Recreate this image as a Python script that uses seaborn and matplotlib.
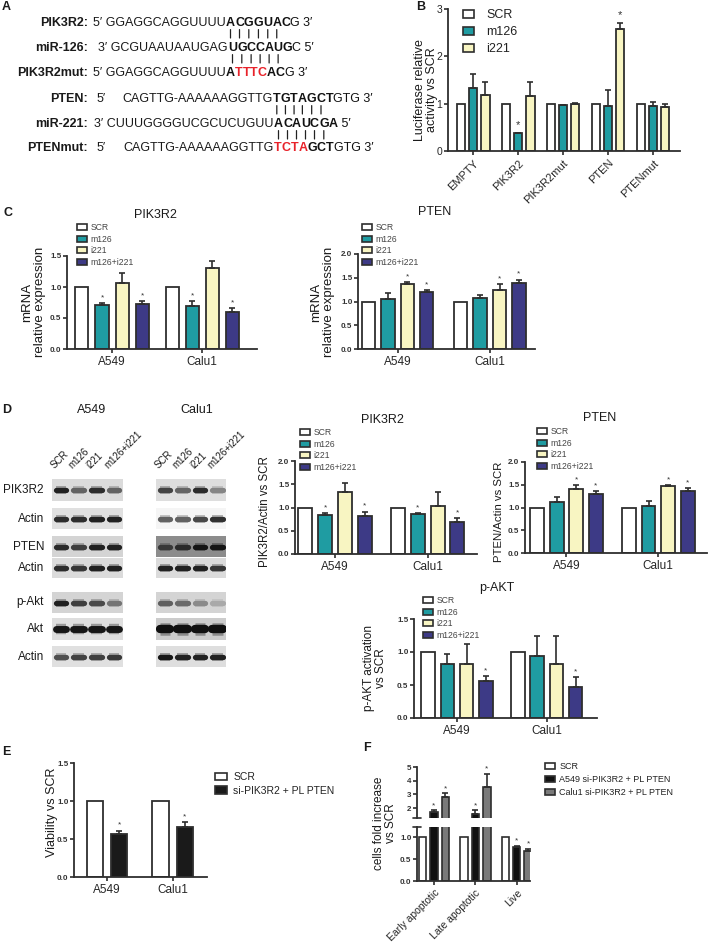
import matplotlib
matplotlib.use("Agg")
import matplotlib.pyplot as plt
import matplotlib.transforms as mtransforms
from matplotlib.container import BarContainer
from matplotlib.patches import Patch
import numpy as np
import pandas as pd
import seaborn as sns

# ---------------- data ----------------
HUES4 = ["SCR", "m126", "i221", "m126+i221"]
COLORS4 = ["#ffffff", "#1f9ca2", "#f8f5c2", "#3d3a86"]
CELLS = ["A549", "Calu1"]

b_groups = ["EMPTY", "PIK3R2", "PIK3R2mut", "PTEN", "PTENmut"]
b_mean = [[1.0, 1.33, 1.19], [1.0, 0.37, 1.17], [1.0, 0.97, 0.99], [1.0, 0.95, 2.58], [1.0, 0.95, 0.92]]
b_err = [[0, 0.30, 0.26], [0, 0.02, 0.28], [0, 0.01, 0.03], [0, 0.33, 0.13], [0, 0.09, 0.07]]
b_star = [[0, 0, 0], [0, 1, 0], [0, 0, 0], [0, 0, 1], [0, 0, 0]]

c_pik_mean = [[1.0, 0.71, 1.06, 0.72], [1.0, 0.70, 1.31, 0.60]]
c_pik_err = [[0, 0.035, 0.17, 0.05], [0, 0.07, 0.11, 0.06]]
c_pik_star = [[0, 1, 0, 1], [0, 1, 0, 1]]
c_pten_mean = [[1.0, 1.06, 1.36, 1.20], [1.0, 1.08, 1.25, 1.39]]
c_pten_err = [[0, 0.12, 0.05, 0.04], [0, 0.05, 0.11, 0.07]]
c_pten_star = [[0, 0, 1, 1], [0, 0, 1, 1]]

d_pik_mean = [[1.0, 0.84, 1.34, 0.81], [1.0, 0.86, 1.04, 0.69]]
d_pik_err = [[0, 0.04, 0.18, 0.10], [0, 0.02, 0.30, 0.08]]
d_pik_star = [[0, 1, 0, 1], [0, 1, 0, 1]]
d_pten_mean = [[1.0, 1.11, 1.40, 1.30], [1.0, 1.04, 1.47, 1.37]]
d_pten_err = [[0, 0.11, 0.10, 0.06], [0, 0.10, 0.03, 0.06]]
d_pten_star = [[0, 0, 1, 1], [0, 0, 1, 1]]
d_akt_mean = [[1.0, 0.815, 0.815, 0.565], [1.0, 0.935, 0.815, 0.475]]
d_akt_err = [[0, 0.16, 0.30, 0.07], [0, 0.30, 0.42, 0.14]]
d_akt_star = [[0, 0, 0, 1], [0, 0, 0, 1]]

blot_rows = ["PIK3R2", "Actin", "PTEN", "Actin", "p-Akt", "Akt", "Actin"]
a549_bands = [[0.85, 0.55, 0.8, 0.55], [0.8, 0.8, 0.85, 0.85], [0.8, 0.7, 0.85, 0.85], [0.8, 0.75, 0.85, 0.85],
              [0.85, 0.7, 0.65, 0.45], [0.9, 0.9, 0.9, 0.9], [0.65, 0.7, 0.72, 0.75]]
calu1_bands = [[0.7, 0.55, 0.8, 0.4], [0.6, 0.6, 0.7, 0.8], [0.6, 0.7, 0.85, 0.85], [0.85, 0.85, 0.85, 0.75],
               [0.55, 0.5, 0.35, 0.2], [0.92, 0.92, 0.92, 0.92], [0.9, 0.85, 0.85, 0.85]]
a549_bg = [0.86, 0.88, 0.83, 0.86, 0.83, 0.87, 0.88]
calu1_bg = [0.87, 0.96, 0.55, 0.86, 0.83, 0.8, 0.87]

e_hues = ["SCR", "si-PIK3R2 + PL PTEN"]
e_mean = [[1.0, 0.57], [1.0, 0.66]]
e_err = [[0, 0.04], [0, 0.06]]
e_star = [[0, 1], [0, 1]]

f_groups = ["Early apoptotic", "Late apoptotic", "Live"]
f_hues = ["SCR", "A549 si-PIK3R2 + PL PTEN", "Calu1 si-PIK3R2 + PL PTEN"]
f_colors = ["#ffffff", "#111111", "#7a7a7a"]
f_mean = [[1.0, 1.71, 2.82], [1.0, 1.59, 3.56], [1.0, 0.77, 0.69]]
f_err = [[0, 0.16, 0.27], [0, 0.24, 0.96], [0, 0.03, 0.05]]
f_star = [[0, 1, 1], [0, 1, 1], [0, 1, 1]]

# ---------------- layout helpers ----------------
W, H = 709, 942
EDGE = "#2e2e2e"
sns.set_theme(style="ticks")
plt.rcParams["font.family"] = ["Liberation Sans", "DejaVu Sans"]
plt.rcParams["text.color"] = "#1a1a1a"

fig = plt.figure(figsize=(W / 100, H / 100), dpi=100)
ov = fig.add_axes([0, 0, 1, 1])
ov.set_xlim(0, W)
ov.set_ylim(H, 0)
ov.axis("off")


def px_axes(x0, y0, x1, y1):
    return fig.add_axes([x0 / W, 1 - y1 / H, (x1 - x0) / W, (y1 - y0) / H])


def bar_panel(ax, groups, hues, colors, means, errs, stars, width, gap, ylim, yticks, xlim,
              tick_fs=5.8, bold=True, star_fs=6, lw=1.3):
    df = pd.DataFrame({"group": np.repeat(groups, len(hues)),
                       "hue": list(hues) * len(groups),
                       "value": np.ravel(means)})
    sns.barplot(data=df, x="group", y="value", hue="hue", order=groups, hue_order=hues,
                palette=colors, saturation=1, width=width, gap=gap, errorbar=None,
                edgecolor=EDGE, linewidth=lw, legend=False, ax=ax)
    span = ylim[1] - ylim[0]
    bar_sets = [c for c in ax.containers if isinstance(c, BarContainer)]
    for k, cont in enumerate(bar_sets):
        for g, bar in enumerate(cont.patches):
            x = bar.get_x() + bar.get_width() / 2
            top = bar.get_height()
            err = errs[g][k]
            if err > 0:
                ax.errorbar(x, top, yerr=[[0], [err]], fmt="none", ecolor=EDGE,
                            elinewidth=1.2, capsize=2.2, capthick=1.2)
            if stars[g][k] and ylim[0] <= top + err <= ylim[1]:
                ax.text(x, top + err + span * 0.02, "*", ha="center", va="bottom",
                        fontsize=star_fs, color="#333333")
    ax.set_ylim(*ylim)
    ax.set_yticks(yticks)
    ax.set_xlim(*xlim)
    ax.set_xlabel("")
    ax.set_ylabel("")
    sns.despine(ax=ax)
    for s in ["left", "bottom"]:
        ax.spines[s].set_linewidth(1.3)
        ax.spines[s].set_color(EDGE)
    ax.tick_params(axis="y", direction="out", length=3, width=1.2, color=EDGE, labelsize=tick_fs, pad=1)
    ax.tick_params(axis="x", direction="out", length=3, width=1.2, color=EDGE, pad=2)
    ax.set_facecolor("none")
    if bold:
        for t in ax.get_yticklabels():
            t.set_fontweight("bold")
            t.set_color("#333333")
    return ax


def legend_at(ax, labels, colors, x, y, fs, spacing=0.3, hl=1.2, hh=0.7, pad=0.4, tcolor="#444444"):
    handles = [Patch(facecolor=c, edgecolor=EDGE, linewidth=1.2) for c in colors]
    leg = ax.legend(handles, labels, loc="upper left", bbox_to_anchor=(x / W, 1 - y / H),
                    bbox_transform=fig.transFigure, frameon=False, fontsize=fs, handlelength=hl,
                    handleheight=hh, labelspacing=spacing, handletextpad=pad, borderpad=0,
                    borderaxespad=0)
    for t in leg.get_texts():
        t.set_color(tcolor)
    return leg


def panel_letter(x, y, s):
    ov.text(x, y, s, ha="left", va="center", fontsize=9, weight="bold")


# ---------------- panel A ----------------
SEQ_FS = 9.0


def seq_line(y, label, prefix, anchor, pieces, lead=None):
    ov.text(88, y, label, ha="right", va="center", fontsize=SEQ_FS, weight="bold")
    prev = ov.text(anchor, y, prefix, ha="right", va="center", fontsize=SEQ_FS)
    if lead:
        ov.text(97, y, lead, ha="left", va="center", fontsize=SEQ_FS)
    chars = []
    for s, bold, color in pieces:
        parts = list(s) if bold else [s]
        for p in parts:
            prev = ov.annotate(p, xy=(1, 0), xycoords=prev, ha="left", va="bottom",
                               fontsize=SEQ_FS, weight="bold" if bold else "normal", color=color)
            if bold:
                chars.append(prev)
    return chars


def pair_bars(chars, n=6):
    for ch in chars[:n]:
        ov.annotate("", xy=(0.5, -0.05), xycoords=ch, xytext=(0.5, -0.75), textcoords=ch,
                    arrowprops=dict(arrowstyle="-", lw=0.9, color="#222222", shrinkA=0, shrinkB=0))


K, R = "#111111", "#e8222a"
panel_letter(2, 7, "A")
top1 = seq_line(23, "PIK3R2:", "5\u2032 GGAGGCAGGUUUU", 226, [("ACGGUAC", True, K), ("G 3\u2032", False, K)])
mid1 = seq_line(48, "miR-126:", "3\u2032 GCGUAAUAAUGAG", 228, [("UGCCAUG", True, K), ("C 5\u2032", False, K)])
seq_line(73, "PIK3R2mut:", "5\u2032 GGAGGCAGGUUUU", 226,
         [("A", True, K), ("TTTC", True, R), ("AC", True, K), ("G 3\u2032", False, K)])
pair_bars(top1)
pair_bars(mid1)
top2 = seq_line(99, "PTEN:", "CAGTTG-AAAAAAGGTTG", 273, [("TGTAGCT", True, K), ("GTG 3\u2032", False, K)],
                lead="5\u2032")
mid2 = seq_line(124, "miR-221:", "3\u2032 CUUUGGGGUCGCUCUGUU", 274, [("ACAUCGA", True, K), (" 5\u2032", False, K)])
seq_line(148, "PTENmut:", "CAGTTG-AAAAAAGGTTG", 274,
         [("TCTA", True, R), ("GCT", True, K), ("GTG 3\u2032", False, K)], lead="5\u2032")
pair_bars(top2)
pair_bars(mid2)

# ---------------- panel B ----------------
panel_letter(416, 7, "B")
axB = px_axes(448, 9, 680, 151)
bar_panel(axB, b_groups, HUES4[:3], COLORS4[:3], b_mean, b_err, b_star, width=0.81, gap=0.3,
          ylim=(0, 3), yticks=[0, 1, 2, 3], xlim=(-0.56, 4.6), tick_fs=7.5, bold=False, star_fs=8)
axB.set_xticks(range(len(b_groups)))
axB.set_xticklabels(b_groups, rotation=45, ha="right", rotation_mode="anchor", fontsize=8)
legend_at(axB, HUES4[:3], COLORS4[:3], 463, 9, 9, spacing=0.4, hl=0.85, hh=0.6, pad=1.0, tcolor="#222222")
ov.text(426, 90, "Luciferase relative\nactivity vs SCR", rotation=90, ha="center", va="center",
        fontsize=9, linespacing=1.1)

# ---------------- panel C ----------------
panel_letter(4, 213, "C")
axC1 = px_axes(67, 256, 257, 349)
bar_panel(axC1, CELLS, HUES4, COLORS4, c_pik_mean, c_pik_err, c_pik_star, width=0.89, gap=0.35,
          ylim=(0, 1.5), yticks=[0, 0.5, 1.0, 1.5], xlim=(-0.5, 1.61))
axC1.set_yticklabels(["0.0", "0.5", "1.0", "1.5"])
axC1.tick_params(axis="x", labelsize=8.5)
legend_at(axC1, HUES4, COLORS4, 77, 223, 6.2)
ov.text(155, 215, "PIK3R2", ha="center", va="center", fontsize=9)
ov.text(34, 302, "mRNA\nrelative expression", rotation=90, ha="center", va="center", fontsize=9.5, linespacing=1.1)

axC2 = px_axes(358, 254, 535, 349)
bar_panel(axC2, CELLS, HUES4, COLORS4, c_pten_mean, c_pten_err, c_pten_star, width=0.84, gap=0.31,
          ylim=(0, 2.0), yticks=[0, 0.5, 1.0, 1.5, 2.0], xlim=(-0.43, 1.49))
axC2.set_yticklabels(["0.0", "0.5", "1.0", "1.5", "2.0"])
axC2.tick_params(axis="x", labelsize=8.5)
legend_at(axC2, HUES4, COLORS4, 362, 223, 6.2)
ov.text(435, 212, "PTEN", ha="center", va="center", fontsize=9)
ov.text(323, 302, "mRNA\nrelative expression", rotation=90, ha="center", va="center", fontsize=9.5, linespacing=1.1)

# ---------------- panel D: blots ----------------
panel_letter(2, 410, "D")
ov.text(92, 410, "A549", ha="center", va="center", fontsize=9)
ov.text(197, 410, "Calu1", ha="center", va="center", fontsize=9)
row_px = [(479, 501), (508, 529), (536, 557), (558, 578), (592, 613), (618, 640), (646, 667)]


def blot(x0, x1, y0, y1, bands, bg, thick):
    ax = px_axes(x0, y0, x1, y1)
    ax.set_xlim(-0.5, len(bands) - 0.5)
    ax.set_ylim(0, 1)
    ax.set_facecolor(str(bg))
    for i, v in enumerate(bands):
        level = bg * (1 - v)
        halo = bg - (bg - level) * 0.35
        ax.plot([i - 0.3, i + 0.3], [0.5, 0.5], lw=thick * 1.5, color=str(halo), solid_capstyle="butt")
        ax.plot([i - 0.3, i + 0.3], [0.5, 0.5], lw=thick, color=str(level), solid_capstyle="round")
    ax.set_xticks([])
    ax.set_yticks([])
    for s in ax.spines.values():
        s.set_visible(False)
    return ax


for r, (name, (y0, y1)) in enumerate(zip(blot_rows, row_px)):
    thick = 5.0 if name == "Akt" else 3.8
    a1 = blot(52, 123, y0, y1, a549_bands[r], a549_bg[r], thick)
    a2 = blot(156, 226, y0, y1, calu1_bands[r], calu1_bg[r], thick + (1.0 if name == "Akt" else 0))
    ov.text(44, (y0 + y1) / 2, name, ha="right", va="center", fontsize=8.5)
    if r == 0:
        for ax in (a1, a2):
            tr = mtransforms.blended_transform_factory(ax.transData, ax.transAxes)
            for i, lab in enumerate(HUES4):
                ax.text(i - 0.25, 1.38, lab, transform=tr, rotation=45, ha="left", va="bottom",
                        rotation_mode="anchor", fontsize=7)

# ---------------- panel D: charts ----------------
axD1 = px_axes(295, 461, 477, 554)
bar_panel(axD1, CELLS, HUES4, COLORS4, d_pik_mean, d_pik_err, d_pik_star, width=0.85, gap=0.29,
          ylim=(0, 2.0), yticks=[0, 0.5, 1.0, 1.5, 2.0], xlim=(-0.43, 1.53))
axD1.set_yticklabels(["0.0", "0.5", "1.0", "1.5", "2.0"])
axD1.tick_params(axis="x", labelsize=8.5)
legend_at(axD1, HUES4, COLORS4, 300, 428, 6.2)
ov.text(382, 420, "PIK3R2", ha="center", va="center", fontsize=9)
ov.text(265, 512, "PIK3R2/Actin vs SCR", rotation=90, ha="center", va="center", fontsize=8.3)

axD2 = px_axes(525, 462, 707, 553)
bar_panel(axD2, CELLS, HUES4, COLORS4, d_pten_mean, d_pten_err, d_pten_star, width=0.85, gap=0.29,
          ylim=(0, 2.0), yticks=[0, 0.5, 1.0, 1.5, 2.0], xlim=(-0.45, 1.53))
axD2.set_yticklabels(["0.0", "0.5", "1.0", "1.5", "2.0"])
axD2.tick_params(axis="x", labelsize=8.5)
legend_at(axD2, HUES4, COLORS4, 537, 427, 6.2)
ov.text(600, 418, "PTEN", ha="center", va="center", fontsize=9)
ov.text(499, 512, "PTEN/Actin vs SCR", rotation=90, ha="center", va="center", fontsize=8.2)

axD3 = px_axes(414, 619, 597, 718)
bar_panel(axD3, CELLS, HUES4, COLORS4, d_akt_mean, d_akt_err, d_akt_star, width=0.86, gap=0.3,
          ylim=(0, 1.5), yticks=[0, 0.5, 1.0, 1.5], xlim=(-0.48, 1.56))
axD3.set_yticklabels(["0.0", "0.5", "1.0", "1.5"])
axD3.tick_params(axis="x", labelsize=8.5)
legend_at(axD3, HUES4, COLORS4, 423, 596, 6.2)
ov.text(497, 588, "p-AKT", ha="center", va="center", fontsize=9)
ov.text(375, 668, "p-AKT activation\nvs SCR", rotation=90, ha="center", va="center", fontsize=8.5, linespacing=1.1)

# ---------------- panel E ----------------
panel_letter(2, 752, "E")
axE = px_axes(74, 763, 207, 877)
bar_panel(axE, CELLS, e_hues, ["#ffffff", "#1a1a1a"], e_mean, e_err, e_star, width=0.74, gap=0.33,
          ylim=(0, 1.5), yticks=[0, 0.5, 1.0, 1.5], xlim=(-0.5, 1.52))
axE.set_yticklabels(["0.0", "0.5", "1.0", "1.5"])
axE.tick_params(axis="x", labelsize=8.5)
legend_at(axE, e_hues, ["#ffffff", "#1a1a1a"], 215, 772, 7.5, spacing=0.35, hl=1.2, hh=0.7, pad=0.55,
          tcolor="#222222")
ov.text(52, 812, "Viability vs SCR", rotation=90, ha="center", va="center", fontsize=9)

# ---------------- panel F (broken axis) ----------------
panel_letter(363, 748, "F")
axFt = px_axes(417, 767, 530, 818)
axFb = px_axes(417, 827, 530, 881)
bar_panel(axFt, f_groups, f_hues, f_colors, f_mean, f_err, f_star, width=0.83, gap=0.35,
          ylim=(1.28, 5.0), yticks=[2, 3, 4, 5], xlim=(-0.41, 2.32), lw=1.2)
bar_panel(axFb, f_groups, f_hues, f_colors, f_mean, f_err, f_star, width=0.83, gap=0.35,
          ylim=(0, 1.23), yticks=[0, 0.5, 1.0], xlim=(-0.41, 2.32), lw=1.2)
axFb.set_yticklabels(["0.0", "0.5", "1.0"])
axFt.spines["bottom"].set_visible(False)
axFt.set_xticks([])
for ax, yb in ((axFt, 0), (axFb, 1)):
    ax.plot([-0.035, 0.035], [yb, yb], transform=ax.transAxes, color=EDGE, lw=1.2, clip_on=False)
axFb.set_xticks(range(len(f_groups)))
axFb.set_xticklabels(f_groups, rotation=45, ha="right", rotation_mode="anchor", fontsize=7.5)
legend_at(axFb, f_hues, f_colors, 545, 762, 6.5, spacing=0.45, hl=1.1, hh=0.65, pad=0.5, tcolor="#222222")
ov.text(385, 823, "cells fold increase\nvs SCR", rotation=90, ha="center", va="center", fontsize=8.5,
        linespacing=1.1)

fig.savefig("out.png", dpi=100)
